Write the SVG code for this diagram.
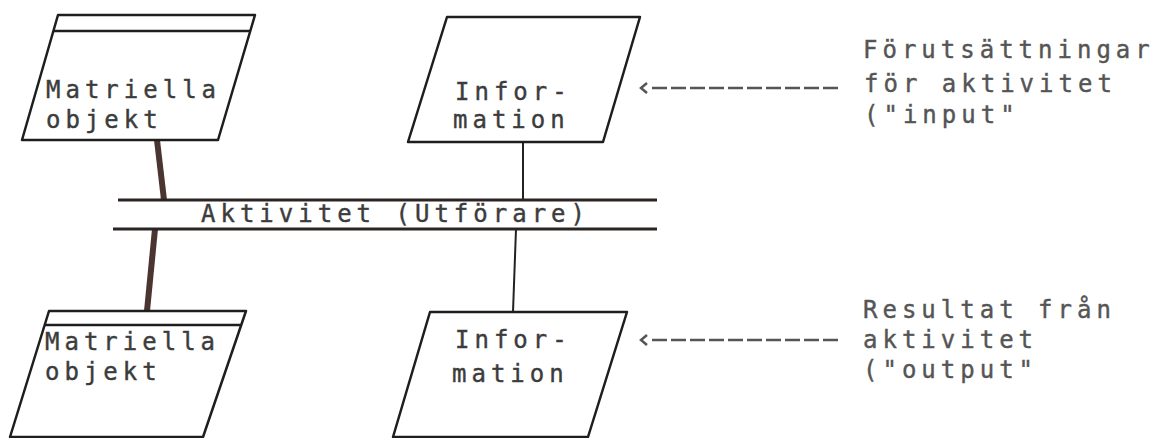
<svg xmlns="http://www.w3.org/2000/svg" width="1172" height="438" viewBox="0 0 1172 438">
<style>
.box{fill:#fff;stroke:#1e1e1e;stroke-width:2.5;stroke-linejoin:round}
.band{stroke:#2a2422;stroke-width:3;fill:none}
.lbl{font-family:"DejaVu Sans Mono","Liberation Mono",monospace;font-size:24px;letter-spacing:5px;fill:#3c3c3c;stroke:#3c3c3c;stroke-width:0.4}
.note{font-family:"DejaVu Sans Mono","Liberation Mono",monospace;font-size:24px;letter-spacing:5px;fill:#555;stroke:#555;stroke-width:0.4}
.thick{stroke:#4b3530;stroke-width:6;fill:none;stroke-linecap:butt}
.thin{stroke:#222;stroke-width:2;fill:none}
.dash{stroke:#555;stroke-width:2.5;fill:none;stroke-dasharray:15 4}
.chev{stroke:#555;stroke-width:2.5;fill:none}
</style>
<rect width="1172" height="438" fill="#fff"/>
<g id="connectors">
<line class="thick" x1="157" y1="140" x2="164" y2="200"/>
<line class="thick" x1="155" y1="229" x2="147" y2="311"/>
<line class="thin" x1="523" y1="142" x2="523" y2="200"/>
<line class="thin" x1="516" y1="229" x2="513" y2="312"/>
<polyline class="chev" points="647,83 641,88 647,93"/>
<line class="dash" x1="652" y1="88" x2="841" y2="88"/>
<polyline class="chev" points="647,335 641,340 647,345"/>
<line class="dash" x1="652" y1="340" x2="839" y2="340"/>
</g>
<g id="activity">
<line class="band" x1="118" y1="200" x2="657" y2="200"/>
<line class="band" x1="113" y1="229" x2="657" y2="229"/>
<text class="lbl" x="201" y="222">Aktivitet (Utförare)</text>
</g>
<g id="material-in">
<polygon class="box" points="58,15 255,15 218,140 22,140"/>
<line class="box" x1="53.4" y1="31" x2="250.3" y2="31"/>
<text class="lbl" x="46" y="98">Matriella</text>
<text class="lbl" x="46" y="128">objekt</text>
</g>
<g id="information-in">
<polygon class="box" points="447,17 640,17 603,142 408,142"/>
<text class="lbl" x="455" y="100">Infor-</text>
<text class="lbl" x="453" y="128">mation</text>
</g>
<g id="material-out">
<polygon class="box" points="49,311 246,311 203,437 10,437"/>
<line class="box" x1="44.7" y1="325" x2="241.2" y2="325"/>
<text class="lbl" x="45" y="350">Matriella</text>
<text class="lbl" x="45" y="380">objekt</text>
</g>
<g id="information-out">
<polygon class="box" points="430,312 627,312 588,437 393,437"/>
<text class="lbl" x="455" y="348">Infor-</text>
<text class="lbl" x="452" y="382">mation</text>
</g>
<g id="note-input">
<text class="note" x="863" y="58">Förutsättningar</text>
<text class="note" x="864" y="92">för aktivitet</text>
<text class="note" x="864" y="123">("input"</text>
</g>
<g id="note-output">
<text class="note" x="863" y="318">Resultat från</text>
<text class="note" x="863" y="348">aktivitet</text>
<text class="note" x="863" y="378">("output"</text>
</g>
</svg>
